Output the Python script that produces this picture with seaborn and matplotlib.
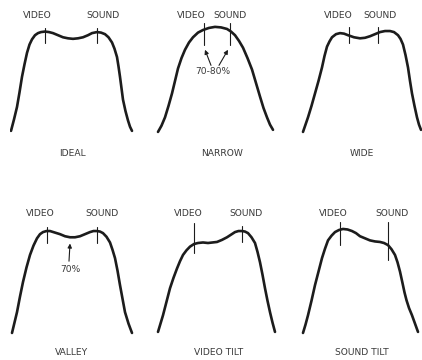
import matplotlib
matplotlib.use("Agg")
import matplotlib.pyplot as plt
import pandas as pd
import seaborn as sns

# IF response curves: relative frequency across the passband vs. relative response (%)
ideal_freq = [1, 4, 7, 9.5, 12, 14.5, 17, 19.5, 22, 25, 28, 31, 35, 39, 43, 48, 53, 58, 63,
              68, 73, 78, 82, 87, 91, 95, 98.5, 102, 104.5, 107, 108.5, 110, 111.5, 113,
              115.5, 118, 120, 122]
ideal_resp = [3, 14, 26, 40, 55, 67, 78, 86, 91, 95, 97, 98, 98.5, 98, 97, 95, 93, 92, 91.5,
              92, 93, 95, 97, 98, 97.5, 96, 93, 88, 82, 74, 65, 55, 44, 33,
              22, 13, 7, 3]

narrow_freq = [3, 6.5, 10, 13.5, 17, 20, 23, 26.5, 30, 34, 38, 43, 48, 54, 60, 66, 72, 76,
               80, 84, 88, 92.5, 97, 101, 105, 108.5, 112, 115, 118]
narrow_resp = [2, 8, 16, 27, 39, 51, 63, 73, 81, 88, 93, 97.5, 100, 102, 103, 102.5, 101, 98.5,
               95, 89.5, 83, 73, 62, 49, 36, 25, 16, 9, 4]

wide_freq = [3, 5.5, 8, 11.5, 15, 18.5, 22, 24.5, 27, 29.5, 32, 36, 40, 44, 48, 54, 60, 65,
             70, 75, 80, 85, 90, 94, 98, 100.5, 103, 105.5, 108, 110, 112, 114.5, 117, 119, 121]
wide_resp = [2, 9, 16, 27, 39, 51, 64, 75, 84, 89, 93, 96, 97, 96.5, 95, 93, 92, 92.5,
             94, 96, 98, 99, 99, 98, 95, 91.5, 86, 76, 64, 51, 39, 27, 16, 9, 4]

valley_freq = [2, 4.5, 7, 10, 13, 16.5, 20, 23.5, 27, 30, 33, 36.5, 40, 45, 50, 55, 60, 65,
               70, 75, 80, 83.5, 87, 90, 93, 96.5, 100, 102.5, 105, 107.5, 110, 112.5, 115,
               118.5, 122]
valley_resp = [1, 11, 21, 36, 50, 64, 76, 85, 92, 96, 98, 99, 99, 97.5, 96, 94, 93, 93,
               94, 96, 98, 99, 99, 98.5, 97, 93.5, 88, 81, 73, 61, 47, 34, 21,
               10, 1]

vtilt_freq = [3, 5.5, 8, 11.5, 15, 18.5, 22, 25, 28, 31.5, 35, 39, 43, 48, 53, 57.5, 62, 67,
              72, 76, 80, 83.5, 87, 90, 93, 96.5, 100, 102.5, 105, 107.5, 110, 112.5, 115,
              117.5, 120]
vtilt_resp = [2, 10, 18, 31, 44, 54, 63, 70, 76, 80.5, 84, 86.5, 87.5, 88, 87.5, 88, 88.5, 90.5,
              93, 95.5, 98, 99, 99, 98.5, 97, 93, 87.5, 79, 69, 57, 44, 32, 21,
              11, 2]

stilt_freq = [3, 5.5, 8, 11.5, 15, 18.5, 22, 25, 28, 31.5, 35, 39, 43, 47.5, 52, 56, 60, 65,
              70, 75, 80, 84, 88, 91.5, 95, 97.5, 100, 102.5, 104.5, 106.5, 109, 112, 115, 118]
stilt_resp = [1, 9, 18, 32, 47, 60, 73, 82, 90, 94.5, 98, 100, 101, 100.5, 99, 97, 94, 92,
              90, 89, 88.5, 87.5, 85.5, 81.5, 76, 69, 60, 49, 40, 32.5, 25, 18, 10, 2]

# carrier markers: (frequency, top of tick, bottom of tick) in the same units
video_marks = [(35, 102, 87.5), (49, 107, 86), (49, 103, 87.5),
               (37, 103, 87.5), (39, 107, 78), (40, 108, 85.5)]
sound_marks = [(87, 102, 87.5), (75, 107, 86), (78, 103, 87.5),
               (87, 103, 87.5), (87, 104, 88.5), (88, 108, 71)]

titles = ["IDEAL", "NARROW", "WIDE", "VALLEY", "VIDEO TILT", "SOUND TILT"]
curves = [(ideal_freq, ideal_resp), (narrow_freq, narrow_resp), (wide_freq, wide_resp),
          (valley_freq, valley_resp), (vtilt_freq, vtilt_resp), (stilt_freq, stilt_resp)]

sns.set_style("white")
plt.rcParams["font.family"] = ["DejaVu Sans"]

W, H = 422, 360
fig = plt.figure(figsize=(W / 100, H / 100), dpi=100)
fig.patch.set_facecolor("white")

panel_left = [10, 155, 300]
row_base = [134, 334]
px_per_unit = 1.04
r_lo, r_hi = -25, 125
panel_w = 130

# label anchors (panel units)
video_label_x = [27, 36, 38, 30, 33, 33]
sound_label_x = [93, 75, 80, 92, 91, 92]
label_y = [113.5, 113.5, 113.5, 116, 116, 116]
title_x = [62, 67, 62, 62, 64, 62]
title_y = [-19, -19, -19, -18, -18, -18]

ink = "#1c1c1c"
text_ink = "#3a3a3a"

for i, (freq, resp) in enumerate(curves):
    row, col = divmod(i, 3)
    left = panel_left[col]
    base = row_base[row]
    bottom_px = base - r_lo * px_per_unit
    height_px = (r_hi - r_lo) * px_per_unit
    ax = fig.add_axes([left / W, (H - bottom_px) / H, panel_w / W, height_px / H])
    ax.set_xlim(0, panel_w)
    ax.set_ylim(r_lo, r_hi)
    ax.axis("off")

    df = pd.DataFrame({"freq": freq, "resp": resp})
    sns.lineplot(data=df, x="freq", y="resp", ax=ax, sort=False, color=ink,
                 linewidth=1.9, solid_capstyle="round", solid_joinstyle="round")

    for (fx, top, bot) in (video_marks[i], sound_marks[i]):
        ax.plot([fx, fx], [bot, top], color=ink, linewidth=0.8)

    ax.text(video_label_x[i], label_y[i], "VIDEO", ha="center", va="center",
            fontsize=6.6, color=text_ink, clip_on=False)
    ax.text(sound_label_x[i], label_y[i], "SOUND", ha="center", va="center",
            fontsize=6.6, color=text_ink, clip_on=False)
    ax.text(title_x[i], title_y[i], titles[i], ha="center", va="center",
            fontsize=6.6, color=text_ink, clip_on=False)

    if titles[i] == "NARROW":
        ax.text(58, 60, "70-80%", ha="center", va="center", fontsize=6.6, color=text_ink)
        for tail, head in (((56, 66), (50, 81)), ((64, 66), (73, 81))):
            ax.annotate("", xy=head, xytext=tail,
                        arrowprops=dict(arrowstyle="-|>", color=ink, lw=0.8,
                                        mutation_scale=6, shrinkA=0, shrinkB=0))
    if titles[i] == "VALLEY":
        ax.text(60, 62.5, "70%", ha="center", va="center", fontsize=6.6, color=text_ink)
        ax.annotate("", xy=(60, 87), xytext=(59, 70),
                    arrowprops=dict(arrowstyle="-|>", color=ink, lw=0.8,
                                    mutation_scale=6, shrinkA=0, shrinkB=0))

fig.savefig("out.png", dpi=100, facecolor="white")
